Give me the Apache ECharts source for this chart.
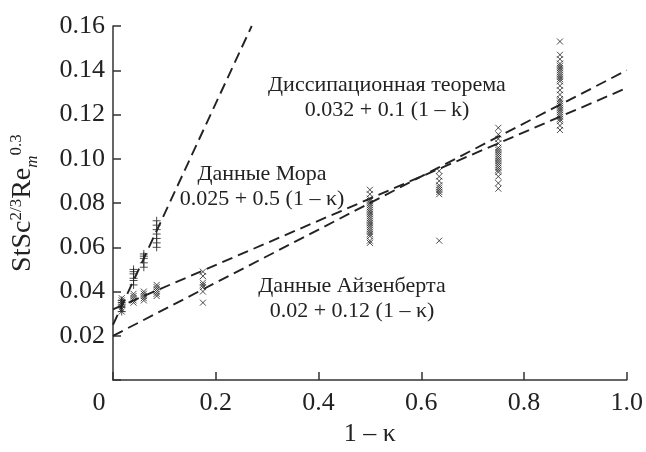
<!DOCTYPE html>
<html>
<head>
<meta charset="utf-8">
<script src="https://cdn.jsdelivr.net/npm/echarts@6/dist/echarts.min.js"></script>
<style>html,body{margin:0;padding:0;background:#fff}</style>
</head>
<body>
<div id="chart" style="width:646px;height:452px"></div>
<script type="text/javascript">
// данные Мора (+)
var mohrX = [0.017, 0.04, 0.06, 0.085];
var mohrY = [
    [0.031, 0.033, 0.034, 0.035, 0.036],
    [0.043, 0.045, 0.046, 0.048, 0.049, 0.050],
    [0.051, 0.053, 0.055, 0.056, 0.057],
    [0.060, 0.062, 0.064, 0.066, 0.068, 0.070, 0.072]
];
// прочие данные (x)
var crossX = [0.017, 0.04, 0.06, 0.085, 0.175, 0.5, 0.635, 0.75, 0.87];
var crossY = [
    [0.031, 0.032, 0.034, 0.035, 0.036, 0.037],
    [0.035, 0.036, 0.037, 0.038, 0.039],
    [0.036, 0.037, 0.038, 0.039, 0.040],
    [0.038, 0.039, 0.040, 0.041, 0.042, 0.043],
    [0.035, 0.040, 0.042, 0.043, 0.044, 0.047, 0.049],
    [0.062, 0.063, 0.065, 0.066, 0.067, 0.068, 0.069, 0.070, 0.071, 0.072, 0.073,
     0.074, 0.075, 0.076, 0.077, 0.078, 0.079, 0.080, 0.081, 0.082, 0.084, 0.086],
    [0.063, 0.084, 0.085, 0.086, 0.087, 0.088, 0.090, 0.092, 0.0945],
    [0.0865, 0.089, 0.092, 0.094, 0.095, 0.096, 0.097, 0.098, 0.099, 0.100, 0.101,
     0.102, 0.103, 0.104, 0.105, 0.107, 0.109, 0.111, 0.114],
    [0.113, 0.115, 0.117, 0.118, 0.119, 0.120, 0.121, 0.122, 0.123, 0.124, 0.125,
     0.126, 0.127, 0.129, 0.131, 0.133, 0.135, 0.136, 0.137, 0.138, 0.139, 0.140,
     0.141, 0.142, 0.143, 0.145, 0.147, 0.153]
];
// аппроксимации a + b (1 - k)
var fitA = [0.025, 0.032, 0.02];
var fitB = [0.5, 0.1, 0.12];
var fitXEnd = [0.27, 1.0, 1.0];

var labelTexts = [
    'Диссипационная теорема', '0.032 + 0.1 (1 \u2013 k)',
    'Данные Мора', '0.025 + 0.5 (1 \u2013 \u03ba)',
    'Данные Айзенберта', '0.02 + 0.12 (1 \u2013 \u03ba)'
];

function pairs(xs, ys) {
    var out = [];
    for (var i = 0; i < xs.length; i++) {
        for (var j = 0; j < ys[i].length; j++) out.push([xs[i], ys[i][j]]);
    }
    return out;
}

var FONT = '"Liberation Serif", "Times New Roman", serif';
var INK = '#222';

var myChart = echarts.init(document.getElementById('chart'));

var series = [];
for (var k = 0; k < fitA.length; k++) {
    series.push({
        type: 'line',
        data: [[0, fitA[k]], [fitXEnd[k], fitA[k] + fitB[k] * fitXEnd[k]]],
        showSymbol: false,
        clip: false,
        lineStyle: { color: INK, width: 1.9, type: [11, 6] }
    });
}
series.push({
    type: 'scatter',
    data: pairs(crossX, crossY),
    symbol: 'path://M0,0L10,10M10,0L0,10',
    symbolSize: 6,
    itemStyle: { color: 'rgba(0,0,0,0)', borderColor: INK, borderWidth: 1 }
});
series.push({
    type: 'scatter',
    data: pairs(mohrX, mohrY),
    symbol: 'path://M5,0L5,10M0,5L10,5',
    symbolSize: 8,
    itemStyle: { color: 'rgba(0,0,0,0)', borderColor: INK, borderWidth: 1 }
});

var txtPos = [[387, 85], [387, 110], [262, 174], [262, 199], [352, 286], [352, 311]];
var graphics = [];
for (var t = 0; t < labelTexts.length; t++) {
    graphics.push({
        type: 'text',
        x: txtPos[t][0],
        y: txtPos[t][1],
        style: {
            text: labelTexts[t],
            fontSize: 22,
            fontFamily: FONT,
            fill: INK,
            textAlign: 'center',
            textVerticalAlign: 'middle'
        }
    });
}

option = {
    animation: false,
    backgroundColor: '#fff',
    grid: { left: 108, right: 18.5, top: 26, bottom: 62, containLabel: false },
    xAxis: {
        type: 'value',
        min: 0, max: 1, interval: 0.2,
        name: '1 \u2013 \u03ba',
        nameLocation: 'middle',
        nameGap: 37,
        nameTextStyle: { fontFamily: FONT, fontSize: 26, color: INK },
        axisLine: { lineStyle: { color: '#333', width: 1.5 } },
        axisTick: { inside: true, length: 8, lineStyle: { color: '#333', width: 1.5 } },
        axisLabel: {
            fontFamily: FONT, fontSize: 26, color: INK, margin: 10,
            formatter: function (v) { return v === 0 ? '{z|0}' : v.toFixed(1); },
            rich: { z: { fontFamily: FONT, fontSize: 26, color: INK, padding: [0, 28, 0, 0] } }
        },
        splitLine: { show: false }
    },
    yAxis: {
        type: 'value',
        min: 0, max: 0.16, interval: 0.02,
        name: '{a|StSc}{s|2/3}{a|Re}{m|m}{s|0.3}',
        nameLocation: 'middle',
        nameGap: 72,
        nameTextStyle: {
            rich: {
                a: { fontFamily: FONT, fontSize: 28, color: INK, verticalAlign: 'bottom', padding: [0, 0, 4, 0] },
                s: { fontFamily: FONT, fontSize: 17, color: INK, verticalAlign: 'bottom', padding: [0, 0, 16, 0] },
                m: { fontFamily: FONT, fontSize: 17, fontStyle: 'italic', color: INK, verticalAlign: 'bottom', padding: [0, 0, 0, 0] }
            }
        },
        axisLine: { lineStyle: { color: '#333', width: 1.5 } },
        axisTick: { inside: true, length: 8, lineStyle: { color: '#333', width: 1.5 } },
        axisLabel: {
            fontFamily: FONT, fontSize: 26, color: INK, margin: 8,
            formatter: function (v) { return v === 0 ? '' : v.toFixed(2); }
        },
        splitLine: { show: false }
    },
    graphic: graphics,
    series: series
};

if (option && typeof option === "object") {
    myChart.setOption(option, true);
}
</script>
</body>
</html>
